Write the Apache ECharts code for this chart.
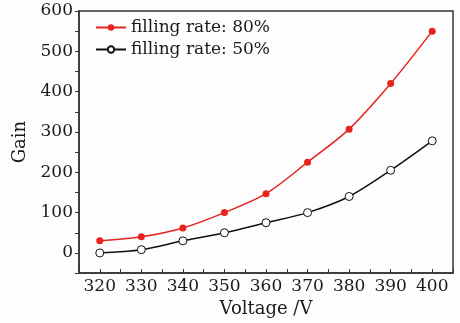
<!DOCTYPE html>
<html>
<head>
<meta charset="utf-8">
<script src="https://cdn.jsdelivr.net/npm/echarts@6/dist/echarts.min.js"></script>
<style>
  html, body { margin: 0; padding: 0; background: #fdfdfd; }
  #main { width: 460px; height: 323px; }
</style>
</head>
<body>
<div id="main"></div>
<script>
// values
const voltages = [320, 330, 340, 350, 360, 370, 380, 390, 400];
const gain80 = [30, 40, 62, 100, 147, 225, 307, 420, 550];
const gain50 = [0, 8, 30, 50, 75, 100, 140, 205, 278];
const seriesNames = ['filling rate: 80%', 'filling rate: 50%'];

const font = 'DejaVu Serif';
const ink = '#1a1a1a';

const pairs = (ys) => voltages.map((v, i) => [v, ys[i]]);

const myChart = echarts.init(document.getElementById('main'));

const option = {
    backgroundColor: '#fdfdfd',
    textStyle: { fontFamily: font, color: ink },
    grid: {
        left: 79, right: 7, top: 11, bottom: 47,
        show: true, borderColor: '#333', borderWidth: 1.5,
        backgroundColor: 'transparent'
    },
    legend: {
        orient: 'vertical',
        left: 90, top: 14,
        itemWidth: 30, itemHeight: 8, itemGap: 5,
        textStyle: { fontFamily: font, fontSize: 17, color: ink },
        data: seriesNames
    },
    xAxis: {
        type: 'value',
        min: 315, max: 405, interval: 5,
        name: 'Voltage /V',
        nameLocation: 'middle',
        nameGap: 25,
        nameTextStyle: { fontFamily: font, fontSize: 18, color: ink },
        axisLine: { onZero: false, lineStyle: { color: '#333', width: 1.5 } },
        axisTick: { inside: true, length: 4, lineStyle: { color: '#333' } },
        axisLabel: {
            margin: 5, fontFamily: font, fontSize: 17, color: ink,
            formatter: (v) => (v % 10 === 0 ? String(v) : '')
        },
        splitLine: { show: false }
    },
    yAxis: {
        type: 'value',
        min: -50, max: 600, interval: 50,
        name: 'Gain',
        nameLocation: 'middle',
        nameGap: 50,
        nameTextStyle: { fontFamily: font, fontSize: 18, color: ink },
        axisLine: { show: true, onZero: false, lineStyle: { color: '#333', width: 1.5 } },
        axisTick: { show: true, length: 4, lineStyle: { color: '#333' } },
        axisLabel: {
            margin: 6, fontFamily: font, fontSize: 17, color: ink,
            formatter: (v) => (v >= 0 && v % 100 === 0 ? String(v) : '')
        },
        splitLine: { show: false }
    },
    series: [
        {
            name: seriesNames[0],
            type: 'line',
            smooth: 0.3,
            symbol: 'circle',
            symbolSize: 7,
            itemStyle: { color: '#e8231f' },
            lineStyle: { color: '#e8231f', width: 1.5 },
            data: pairs(gain80)
        },
        {
            name: seriesNames[1],
            type: 'line',
            smooth: 0.3,
            symbol: 'circle',
            symbolSize: 8,
            itemStyle: { color: '#ffffff', borderColor: '#111', borderWidth: 1 },
            lineStyle: { color: '#111', width: 1.5 },
            data: pairs(gain50)
        }
    ]
};

myChart.setOption(option);
</script>
</body>
</html>
